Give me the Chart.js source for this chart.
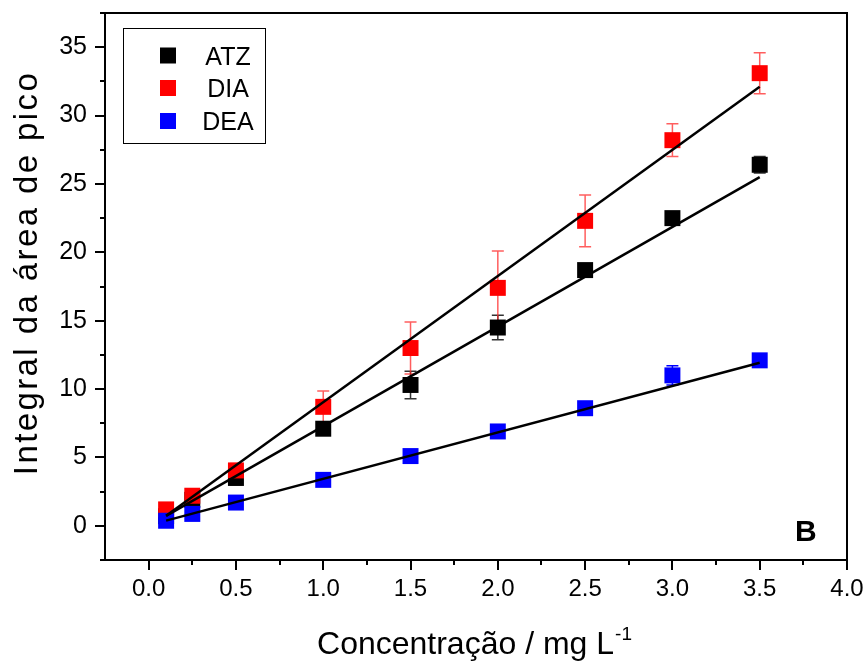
<!DOCTYPE html>
<html>
<head>
<meta charset="utf-8">
<script src="https://cdn.jsdelivr.net/npm/chart.js@4/dist/chart.umd.min.js"></script>
<style>
html,body{margin:0;padding:0;background:#fff;}
</style>
</head>
<body>
<canvas id="grafico" width="866" height="661"></canvas>
<script>
// concentrações (mg/L) e áreas medidas
const conc    = [0.1, 0.25, 0.5, 1.0, 1.5, 2.0, 2.5, 3.0, 3.5];
const atz     = [0.7, 1.9, 3.5, 7.1, 10.3, 14.5, 18.7, 22.5, 26.4];
const atzErr  = [0.2, 0.2, 0.5, 0.3, 1.0, 0.9, 0.3, 0.4, 0.6];
const dia     = [1.2, 2.2, 4.05, 8.7, 13.0, 17.4, 22.3, 28.2, 33.1];
const diaErr  = [0.2, 0.3, 0.5, 1.15, 1.9, 2.7, 1.9, 1.2, 1.5];
const dea     = [0.37, 0.87, 1.7, 3.36, 5.1, 6.9, 8.6, 11.0, 12.1];
const deaErr  = [0.2, 0.2, 0.2, 0.2, 0.3, 0.3, 0.3, 0.7, 0.3];

// retas de regressão (extremos)
const fitX    = [0.1, 3.5];
const atzFit  = [0.73, 25.5];
const diaFit  = [0.74, 32.1];
const deaFit  = [0.38, 11.93];

const xTicks  = [0, 0.5, 1.0, 1.5, 2.0, 2.5, 3.0, 3.5, 4.0];
const yTicks  = [0, 5, 10, 15, 20, 25, 30, 35];

const series = [
    {label: 'ATZ', y: atz, err: atzErr, color: '#000000', bar: '#333333'},
    {label: 'DIA', y: dia, err: diaErr, color: '#ff0000', bar: 'rgba(255,40,40,0.75)'},
    {label: 'DEA', y: dea, err: deaErr, color: '#0000ff', bar: '#0000ff'}
];
const FONT = '"Liberation Sans", Arial, sans-serif';

function pts(xs, ys){
    return xs.map((x, i) => ({x: x, y: ys[i]}));
}

const moldura = {
    id: 'moldura',
    beforeDatasetsDraw(chart){
        const ctx = chart.ctx;
        const sx = chart.scales.x, sy = chart.scales.y;
        ctx.save();
        ctx.lineWidth = 1.5;
        series.forEach(s => {
            ctx.strokeStyle = s.bar;
            conc.forEach((c, i) => {
                const px = sx.getPixelForValue(c);
                const top = sy.getPixelForValue(s.y[i] + s.err[i]);
                const bot = sy.getPixelForValue(s.y[i] - s.err[i]);
                ctx.beginPath();
                ctx.moveTo(px, top); ctx.lineTo(px, bot);
                ctx.moveTo(px - 6, top); ctx.lineTo(px + 6, top);
                ctx.moveTo(px - 6, bot); ctx.lineTo(px + 6, bot);
                ctx.stroke();
            });
        });
        ctx.restore();
    },
    afterDraw(chart){
        const ctx = chart.ctx;
        const a = chart.chartArea;
        const sx = chart.scales.x, sy = chart.scales.y;
        ctx.save();
        ctx.strokeStyle = '#000';
        ctx.lineWidth = 2;
        ctx.strokeRect(a.left, a.top, a.right - a.left, a.bottom - a.top);

        // marcas dos eixos
        ctx.beginPath();
        for (let v = 0; v <= 4.0001; v += 0.25) {
            const px = Math.round(sx.getPixelForValue(v));
            const len = (Math.round(v * 4) % 2 == 0) ? 10 : 5;
            ctx.moveTo(px, a.bottom); ctx.lineTo(px, a.bottom + len);
        }
        for (let v = -2.5; v <= 37.5001; v += 2.5) {
            const py = Math.round(sy.getPixelForValue(v));
            const len = (Math.round(v / 2.5) % 2 == 0) ? 10 : 5;
            ctx.moveTo(a.left, py); ctx.lineTo(a.left - len, py);
        }
        ctx.stroke();

        // títulos dos eixos
        ctx.fillStyle = '#000';
        ctx.textBaseline = 'alphabetic';
        ctx.save();
        ctx.font = '33px ' + FONT;
        ctx.letterSpacing = '2.4px';
        ctx.translate(37, 273);
        ctx.rotate(-Math.PI / 2);
        ctx.textAlign = 'center';
        ctx.fillText('Integral da área de pico', 0, 0);
        ctx.restore();

        const main = 'Concentração / mg L';
        const sup = '-1';
        ctx.font = '32px ' + FONT;
        const w1 = ctx.measureText(main).width;
        ctx.font = '19px ' + FONT;
        const w2 = ctx.measureText(sup).width;
        const x0 = 474 - (w1 + w2) / 2;
        ctx.textAlign = 'left';
        ctx.font = '32px ' + FONT;
        ctx.fillText(main, x0, 654);
        ctx.font = '19px ' + FONT;
        ctx.fillText(sup, x0 + w1 + 1, 640);

        // legenda
        ctx.lineWidth = 1;
        ctx.strokeRect(123.5, 28.5, 142, 115);
        const ly = [55.5, 88, 121];
        ctx.font = '25px ' + FONT;
        ctx.textAlign = 'center';
        series.forEach((s, i) => {
            ctx.fillStyle = s.color;
            ctx.fillRect(160, ly[i] - 8, 16, 16);
            ctx.fillStyle = '#000';
            ctx.fillText(s.label, 228, ly[i] + 9);
        });

        ctx.font = 'bold 30px ' + FONT;
        ctx.textAlign = 'left';
        ctx.fillText('B', 795, 541);
        ctx.restore();
    }
};

const datasets = [];
datasets.push({label: 'ATZ fit', data: pts(fitX, atzFit), showLine: true, borderColor: '#000', borderWidth: 2.5, pointRadius: 0, order: 0});
datasets.push({label: 'DIA fit', data: pts(fitX, diaFit), showLine: true, borderColor: '#000', borderWidth: 2.5, pointRadius: 0, order: 0});
datasets.push({label: 'DEA fit', data: pts(fitX, deaFit), showLine: true, borderColor: '#000', borderWidth: 2.5, pointRadius: 0, order: 0});
series.forEach((s, i) => {
    datasets.push({
        label: s.label,
        data: pts(conc, s.y),
        showLine: false,
        pointStyle: 'rect',
        pointRadius: 11.3,
        pointBackgroundColor: s.color,
        pointBorderColor: s.color,
        pointBorderWidth: 0,
        order: 3 - i
    });
});

let chart = new Chart(document.getElementById('grafico').getContext('2d'), {
    type: 'scatter',
    data: {datasets: datasets},
    options: {
        responsive: false,
        animation: false,
        layout: {padding: {top: 13, right: 19, left: 0, bottom: 0}},
        plugins: {legend: {display: false}, tooltip: {enabled: false}},
        scales: {
            x: {
                type: 'linear',
                min: -0.25, max: 4.0,
                grid: {display: false, drawTicks: false},
                border: {display: false},
                afterBuildTicks: s => { s.ticks = xTicks.map(v => ({value: v})); },
                afterFit: s => { s.height = 101; s.paddingLeft = 0; s.paddingRight = 0; },
                ticks: {
                    padding: 15,
                    color: '#000',
                    font: {family: FONT, size: 24},
                    callback: v => Number(v).toFixed(1)
                }
            },
            y: {
                type: 'linear',
                min: -2.5, max: 37.5,
                grid: {display: false, drawTicks: false},
                border: {display: false},
                afterBuildTicks: s => { s.ticks = yTicks.map(v => ({value: v})); },
                afterFit: s => { s.width = 105; s.paddingTop = 0; s.paddingBottom = 0; },
                ticks: {
                    padding: 18,
                    color: '#000',
                    font: {family: FONT, size: 25},
                    callback: v => String(v)
                }
            }
        }
    },
    plugins: [moldura]
});
</script>
</body>
</html>
